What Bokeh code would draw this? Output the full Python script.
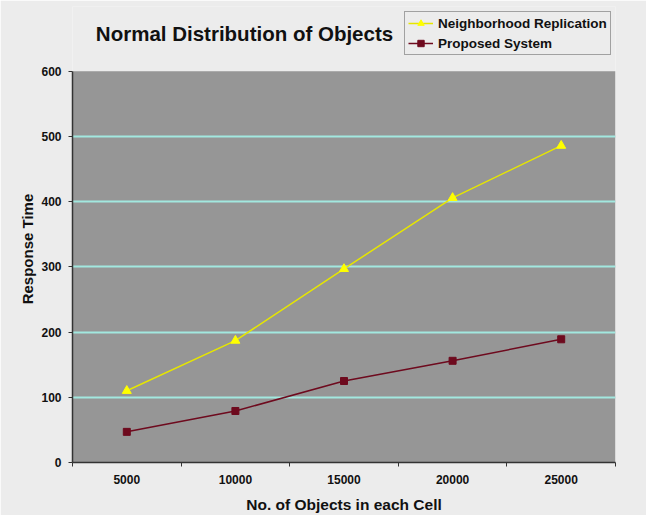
from bokeh.plotting import figure
from bokeh.models import FixedTicker, Legend, LegendItem, Label, Range1d, BoxAnnotation
from bokeh.embed import file_html
from bokeh.resources import INLINE

objects = [5000, 10000, 15000, 20000, 25000]
tick_labels = ["5000", "10000", "15000", "20000", "25000"]
neighborhood = [110, 187, 297, 406, 486]
proposed = [47, 79, 125, 156, 189]
y_ticks = [0, 100, 200, 300, 400, 500, 600]
grid_ticks = [100, 200, 300, 400, 500]
x_boundaries = [2500, 7500, 12500, 17500, 22500, 27500]
y_min, y_max = 0, 600

BG = "#ECECEC"
FONT = "Liberation Sans"
NBSP = "\u00a0"

# frame extends above the 0-600 plotting area so the title and legend fit inside it
top_border, bottom_border = 6, 52
frame_h = 515 - top_border - bottom_border
area_h = 392
y_end = y_max * frame_h / area_h

p = figure(width=646, height=515, output_backend="svg", toolbar_location=None,
           x_range=Range1d(2500, 27500), y_range=Range1d(0, y_end),
           min_border_left=72, min_border_right=31,
           min_border_top=top_border, min_border_bottom=bottom_border)
p.background_fill_color = BG
p.border_fill_color = BG
p.outline_line_color = None

area = BoxAnnotation(bottom=y_min, top=y_max, fill_color="#969696", fill_alpha=1,
                     line_color=None, level="image")
p.add_layout(area)

# axes
p.xaxis.ticker = FixedTicker(ticks=objects, minor_ticks=x_boundaries)
p.xaxis.major_label_overrides = {v: s for v, s in zip(objects, tick_labels)}
p.yaxis.ticker = FixedTicker(ticks=y_ticks)
p.yaxis.bounds = (y_min, y_max)
for ax in (p.xaxis, p.yaxis):
    ax.axis_line_color = "#333333"
    ax.axis_line_width = 1.5
    ax.major_label_text_font = FONT
    ax.major_label_text_font_style = "bold"
    ax.major_label_text_font_size = "12px"
    ax.major_label_text_color = "#111111"
    ax.axis_label_text_font = FONT
    ax.axis_label_text_font_style = "bold"
    ax.axis_label_text_color = "#111111"
p.xaxis.major_tick_line_color = None
p.xaxis.minor_tick_line_color = "#333333"
p.xaxis.minor_tick_out = 4
p.xaxis.minor_tick_in = 0
p.xaxis.major_label_standoff = 6
p.yaxis.major_tick_line_color = "#333333"
p.yaxis.major_tick_out = 4
p.yaxis.major_tick_in = 0
p.yaxis.minor_tick_line_color = None
p.yaxis.major_label_standoff = 7
p.xaxis.axis_label = "No. of Objects in each Cell"
p.xaxis.axis_label_text_font_size = "15.5px"
p.xaxis.axis_label_standoff = 9
# trailing no-break spaces centre the visible label on the 0-600 area
p.yaxis.axis_label = "Response Time" + NBSP * 7
p.yaxis.axis_label_text_font_size = "15px"
p.yaxis.axis_label_standoff = 2

p.xgrid.grid_line_color = None
p.ygrid.ticker = FixedTicker(ticks=grid_ticks)
p.ygrid.grid_line_color = "#A2E8DF"
p.ygrid.grid_line_width = 2

# series
l1 = p.line(objects, neighborhood, line_color="#E6E600", line_width=1.5)
m1 = p.scatter(objects, neighborhood, marker="triangle", size=9,
               fill_color="#FFFF00", line_color="#FFFF00")
l2 = p.line(objects, proposed, line_color="#6E0A1E", line_width=1.5)
m2 = p.scatter(objects, proposed, marker="square", size=7,
               fill_color="#6E0A1E", line_color="#6E0A1E")

legend = Legend(items=[LegendItem(label="Neighborhood Replication", renderers=[l1, m1]),
                       LegendItem(label="Proposed System", renderers=[l2, m2])],
                location=(332, 407), orientation="vertical",
                background_fill_color=BG, background_fill_alpha=1,
                border_line_color="#555555", border_line_width=1,
                label_text_font=FONT, label_text_font_style="bold",
                label_text_font_size="13.5px", label_text_color="#111111",
                glyph_width=25, glyph_height=16, label_height=16,
                label_standoff=5, spacing=4, padding=3, margin=0)
p.add_layout(legend, "center")

title = Label(x=172, y=429, x_units="screen", y_units="screen",
              text="Normal Distribution of Objects", text_align="center",
              text_baseline="middle", text_font=FONT, text_font_style="bold",
              text_font_size="20.5px", text_color="#111111")
p.add_layout(title)

open("out.html", "w").write(file_html(p, INLINE))
